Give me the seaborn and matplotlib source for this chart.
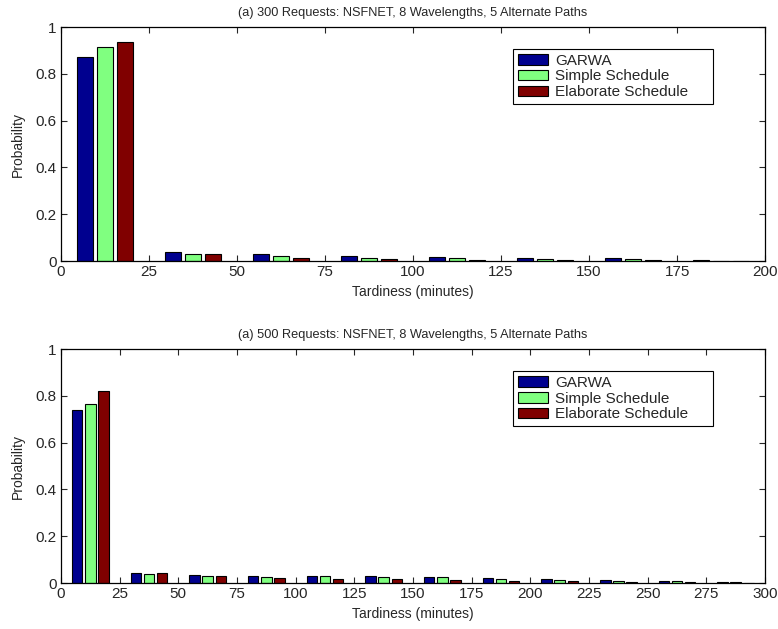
import matplotlib
matplotlib.use("Agg")
import matplotlib.pyplot as plt
import numpy as np
import pandas as pd
import seaborn as sns

sns.set_style("ticks")
plt.rcParams['font.family'] = ['Liberation Sans', 'DejaVu Sans']

series = ["GARWA", "Simple Schedule", "Elaborate Schedule"]
colors = ["#00008F", "#80FF80", "#800000"]

# 300 requests: bins of 25 minutes from 0 to 200
bins_300 = [12.5, 37.5, 62.5, 87.5, 112.5, 137.5, 162.5, 187.5]
garwa_300 = [0.870, 0.038, 0.029, 0.020, 0.018, 0.014, 0.011, 0.005]
simple_300 = [0.914, 0.029, 0.020, 0.011, 0.011, 0.009, 0.007, 0.002]
elaborate_300 = [0.934, 0.028, 0.015, 0.010, 0.006, 0.006, 0.003, 0.002]

# 500 requests: bins of 25 minutes from 0 to 300
bins_500 = [12.5, 37.5, 62.5, 87.5, 112.5, 137.5, 162.5, 187.5,
            212.5, 237.5, 262.5, 287.5]
garwa_500 = [0.740, 0.044, 0.033, 0.031, 0.031, 0.031, 0.027, 0.020,
             0.016, 0.015, 0.010, 0.006]
simple_500 = [0.764, 0.040, 0.031, 0.028, 0.030, 0.027, 0.025, 0.019,
              0.014, 0.011, 0.007, 0.003]
elaborate_500 = [0.820, 0.044, 0.030, 0.023, 0.018, 0.017, 0.014, 0.010,
                 0.010, 0.006, 0.003, 0.002]

xticks_300 = list(range(0, 201, 25))
xticks_500 = list(range(0, 301, 25))
yticks = [0, 0.2, 0.4, 0.6, 0.8, 1]
ytick_labels = ["0", "0.2", "0.4", "0.6", "0.8", "1"]


def long_frame(bins, *vals):
    rows = []
    for name, v in zip(series, vals):
        for b, p in zip(bins, v):
            rows.append({"bin": b, "prob": p, "method": name})
    return pd.DataFrame(rows)


fig = plt.figure(figsize=(7.78, 6.29), dpi=100)
ax1 = fig.add_axes([0.0784, 0.585, 0.905, 0.372])
ax2 = fig.add_axes([0.0784, 0.073, 0.905, 0.372])

panels = [
    (ax1, long_frame(bins_300, garwa_300, simple_300, elaborate_300), xticks_300,
     "(a) 300 Requests: NSFNET, 8 Wavelengths, 5 Alternate Paths"),
    (ax2, long_frame(bins_500, garwa_500, simple_500, elaborate_500), xticks_500,
     "(a) 500 Requests: NSFNET, 8 Wavelengths, 5 Alternate Paths"),
]

for ax, df, xt, title in panels:
    sns.barplot(data=df, x="bin", y="prob", hue="method", hue_order=series,
                palette=colors, native_scale=True, width=0.672, gap=0.2,
                saturation=1, edgecolor="black", linewidth=0.8, ax=ax)
    ax.set_xlim(xt[0], xt[-1])
    ax.set_ylim(0, 1)
    ax.set_xticks(xt)
    ax.set_xticklabels([str(t) for t in xt], fontsize=11)
    ax.set_yticks(yticks)
    ax.set_yticklabels(ytick_labels, fontsize=11)
    ax.tick_params(direction="in", top=True, right=True, length=4, width=0.8,
                   pad=3)
    for s in ax.spines.values():
        s.set_visible(True)
        s.set_linewidth(0.9)
        s.set_color("black")
    ax.set_xlabel("Tardiness (minutes)", fontsize=10, labelpad=4)
    ax.set_ylabel("Probability", fontsize=10, labelpad=8)
    ax.set_title(title, fontsize=9.2, pad=8)
    leg = ax.legend(loc="upper left", bbox_to_anchor=(0.642, 0.906, 0.284, 0.0),
                    mode="expand",
                    fontsize=11, frameon=True, fancybox=False, shadow=False,
                    handlelength=2.0, handleheight=0.7, handletextpad=0.45,
                    labelspacing=0.12, borderpad=0.3, borderaxespad=0)
    leg.get_frame().set_edgecolor("black")
    leg.get_frame().set_linewidth(0.8)
    leg.get_frame().set_alpha(1)

fig.savefig("out.png", dpi=100)
